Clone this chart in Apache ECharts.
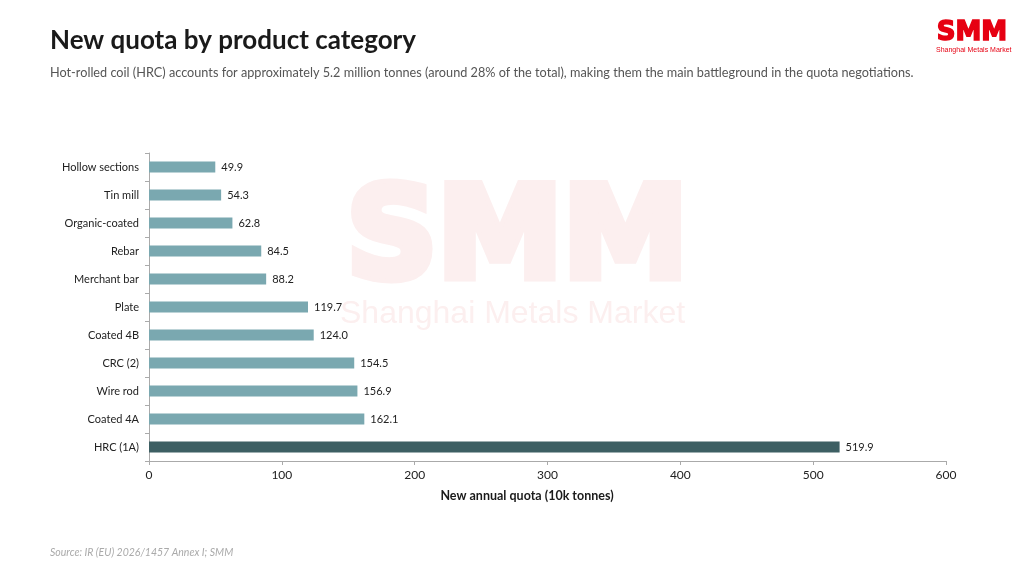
<!DOCTYPE html>
<html>
<head>
<meta charset="utf-8">
<script src="https://cdn.jsdelivr.net/npm/echarts@6/dist/echarts.min.js"></script>
<style>
  html, body { margin: 0; padding: 0; background: #fff; }
  #chart { width: 1024px; height: 576px; }
</style>
</head>
<body>
<div id="chart"></div>
<script>
// data, bottom to top as ECharts draws a category y axis
const categories = ['HRC (1A)', 'Coated 4A', 'Wire rod', 'CRC (2)', 'Coated 4B', 'Plate',
  'Merchant bar', 'Rebar', 'Organic-coated', 'Tin mill', 'Hollow sections'];
const quota = [519.9, 162.1, 156.9, 154.5, 124.0, 119.7, 88.2, 84.5, 62.8, 54.3, 49.9];
const highlight = 'HRC (1A)';

const chart = echarts.init(document.getElementById('chart'));
const font = 'Lato, "Noto Sans", sans-serif';

const option = {
  backgroundColor: '#fff',
  animation: false,
  textStyle: { fontFamily: font },
  grid: { left: 149, right: 78, top: 153, bottom: 115 },
  graphic: [
    // watermark
    { type: 'text', left: 342, top: 177, z: 0, silent: true,
      style: { text: 'SMM', fill: '#fcefef', stroke: '#fcefef', lineWidth: 9,
        font: '900 126px "DejaVu Sans", sans-serif' } },
    { type: 'text', left: 340, top: 298, z: 0, silent: true,
      style: { text: 'Shanghai Metals Market', fill: '#fcefef', font: '32px "Liberation Sans", Arial, sans-serif' } },
    // header logo
    { type: 'text', left: 936, top: 19, silent: true,
      style: { text: 'SMM', fill: '#e60012', stroke: '#e60012', lineWidth: 1.5,
        font: '900 26px "DejaVu Sans", sans-serif' } },
    { type: 'text', left: 936, top: 47, silent: true,
      style: { text: 'Shanghai Metals Market', fill: '#e60012', font: '7px "Liberation Sans", Arial, sans-serif' } },
    // title, subtitle, source
    { type: 'text', left: 50, top: 28,
      style: { text: 'New quota by product category', fill: '#1a1a1a', font: 'bold 26px ' + font } },
    { type: 'text', left: 50, top: 66,
      style: { text: 'Hot-rolled coil (HRC) accounts for approximately 5.2 million tonnes (around 28% of the total), making them the main battleground in the quota negotiations.',
        fill: '#555', font: '12.7px ' + font } },
    { type: 'text', left: 50, top: 547,
      style: { text: 'Source: IR (EU) 2026/1457 Annex I; SMM', fill: '#aaa', font: 'italic 10.5px ' + font } },
    // x axis title (sits left of the plot centre in the reference)
    { type: 'text', x: 527, y: 496,
      style: { text: 'New annual quota (10k tonnes)', fill: '#1a1a1a', font: 'bold 12.5px ' + font,
        align: 'center', verticalAlign: 'middle' } }
  ],
  xAxis: {
    type: 'value', min: 0, max: 600, interval: 100,
    axisLine: { show: true, lineStyle: { color: '#aaa' } },
    axisTick: { show: true, length: 4, lineStyle: { color: '#aaa' } },
    axisLabel: { color: '#222', fontSize: 12, margin: 8 },
    splitLine: { show: false }
  },
  yAxis: {
    type: 'category', data: categories,
    axisLine: { lineStyle: { color: '#aaa' } },
    axisTick: { show: true, length: 4, lineStyle: { color: '#aaa' } },
    axisLabel: { color: '#222', fontSize: 11, margin: 10 }
  },
  series: [{
    type: 'bar',
    barWidth: 11,
    z: 3,
    data: quota.map((v, i) => ({
      value: v,
      itemStyle: { color: categories[i] === highlight ? '#3d5f63' : '#7aa8b0' }
    })),
    label: {
      show: true, position: 'right', distance: 6, color: '#222', fontSize: 11,
      formatter: p => p.value.toFixed(1)
    }
  }]
};

chart.setOption(option);
</script>
</body>
</html>
